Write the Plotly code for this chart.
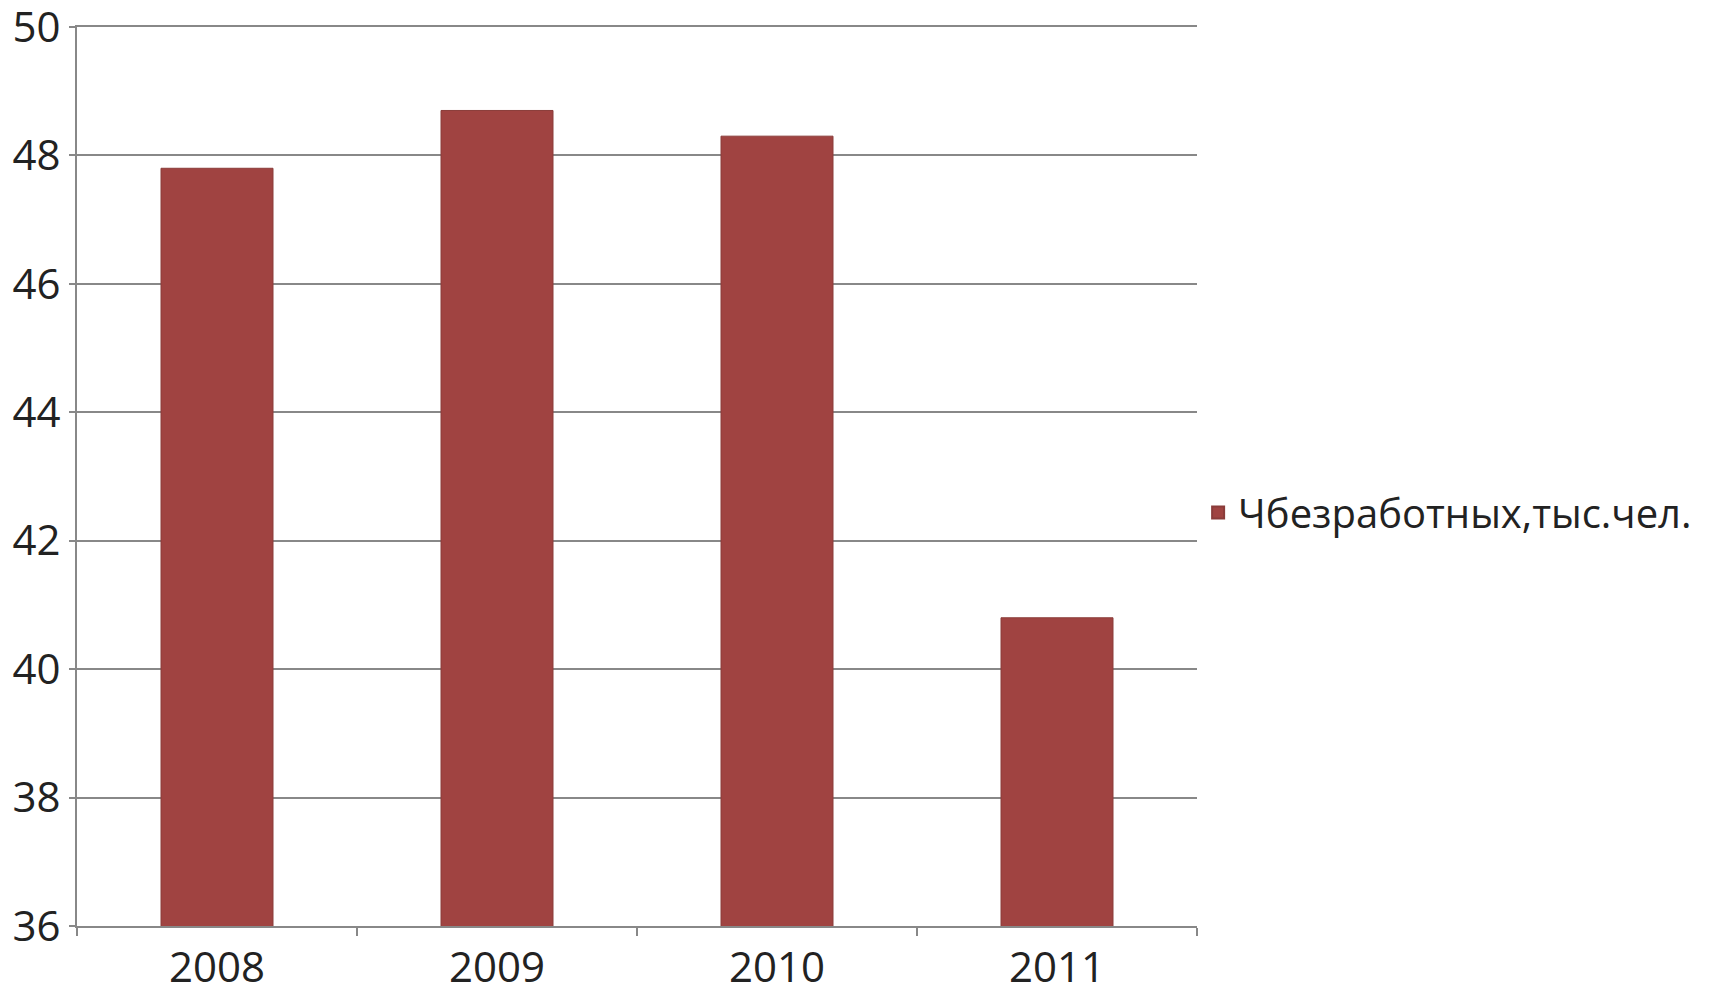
import plotly.graph_objects as go

# data
years = ["2008", "2009", "2010", "2011"]
unemployed = [47.8, 48.7, 48.3, 40.8]
series_name = "Чбезработных,тыс.чел."
y_ticks = [36, 38, 40, 42, 44, 46, 48, 50]

fig = go.Figure()
fig.add_trace(go.Bar(
    x=years,
    y=unemployed,
    name=series_name,
    marker=dict(color="#A04341", line=dict(color="#8a3c3a", width=1)),
    showlegend=True,
))

# page body adds an 8px offset, so the figure is a bit smaller than the window
fig.update_layout(
    width=1706,
    height=980,
    paper_bgcolor="white",
    plot_bgcolor="white",
    font=dict(family="Open Sans", size=42, color="#222222"),
    margin=dict(l=69, r=517, t=19, b=62),
    bargap=0.6,
    showlegend=True,
    legend=dict(
        x=1.001, y=0.46, xanchor="left", yanchor="middle",
        font=dict(size=40),
        itemsizing="constant",
    ),
    xaxis=dict(
        automargin=False,
        showline=True, mirror=True, linecolor="#888888", linewidth=2,
        ticks="outside", ticklen=8, tickcolor="#888888", tickwidth=2,
        tickson="boundaries",
        ticklabelstandoff=4,
        showgrid=False,
    ),
    yaxis=dict(
        automargin=False,
        range=[36, 50],
        tickvals=y_ticks,
        ticklabeloverflow="allow",
        showline=True, linecolor="#888888", linewidth=2,
        ticks="outside", ticklen=6, tickcolor="#888888", tickwidth=2,
        showgrid=True, gridcolor="#888888", gridwidth=2,
        zeroline=False,
    ),
)

fig.write_html("out.html")
